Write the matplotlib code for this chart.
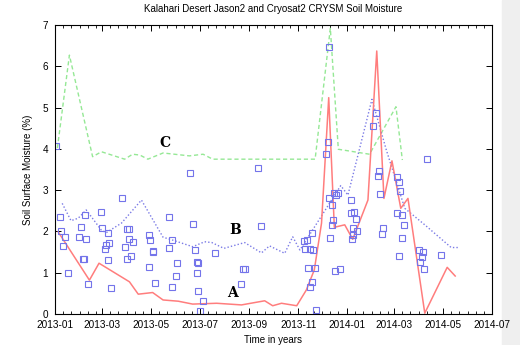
import numpy as np
import pandas as pd
import matplotlib
matplotlib.use("Agg")
import matplotlib.pyplot as plt
import matplotlib.dates as mdates

plt.rcParams['font.family'] = ['Liberation Sans', 'DejaVu Sans']

# Observed soil moisture (blue squares)
obs_dates = ['2013-01-02', '2013-01-07', '2013-01-08', '2013-01-11', '2013-01-13', '2013-01-17',
             '2013-01-31', '2013-02-02', '2013-02-05', '2013-02-06', '2013-02-08', '2013-02-09',
             '2013-02-11', '2013-02-27', '2013-03-01', '2013-03-05', '2013-03-06', '2013-03-08',
             '2013-03-08', '2013-03-09', '2013-03-12', '2013-03-26', '2013-03-30', '2013-04-01',
             '2013-04-01', '2013-04-03', '2013-04-03', '2013-04-06', '2013-04-09', '2013-04-28',
             '2013-04-29', '2013-04-30', '2013-05-03', '2013-05-04', '2013-05-06', '2013-05-23',
             '2013-05-24', '2013-05-27', '2013-05-27', '2013-06-01', '2013-06-02', '2013-06-19',
             '2013-06-23', '2013-06-25', '2013-06-27', '2013-06-27', '2013-06-29', '2013-06-29',
             '2013-07-01', '2013-07-05', '2013-07-20', '2013-08-22', '2013-08-24', '2013-08-26',
             '2013-09-12', '2013-09-16', '2013-11-08', '2013-11-09', '2013-11-12', '2013-11-13',
             '2013-11-15', '2013-11-16', '2013-11-18', '2013-11-18', '2013-11-19', '2013-11-22',
             '2013-11-23', '2013-12-05', '2013-12-08', '2013-12-09', '2013-12-09', '2013-12-11',
             '2013-12-13', '2013-12-13', '2013-12-14', '2013-12-16', '2013-12-17', '2013-12-18',
             '2013-12-20', '2013-12-23', '2014-01-06', '2014-01-06', '2014-01-07', '2014-01-08',
             '2014-01-08', '2014-01-10', '2014-01-12', '2014-01-13', '2014-02-02', '2014-02-06',
             '2014-02-09', '2014-02-10', '2014-02-11', '2014-02-13', '2014-02-15', '2014-03-04',
             '2014-03-04', '2014-03-07', '2014-03-07', '2014-03-08', '2014-03-10', '2014-03-11',
             '2014-03-13', '2014-04-01', '2014-04-02', '2014-04-04', '2014-04-06', '2014-04-07',
             '2014-04-11', '2014-04-28']
obs_vals = [4.07, 2.34, 2.01, 1.65, 1.86, 0.99,
            1.87, 2.11, 1.33, 1.33, 2.40, 1.82,
            0.73, 2.46, 2.09, 1.57, 1.66, 1.95,
            1.32, 1.73, 0.64, 2.80, 1.63, 2.07,
            1.34, 2.05, 1.82, 1.41, 1.75, 1.15,
            1.91, 1.79, 1.53, 1.49, 0.74, 1.59,
            2.34, 1.79, 0.66, 0.92, 1.23, 3.42,
            2.18, 1.55, 1.00, 1.27, 1.23, 0.56,
            0.08, 0.32, 1.47, 0.73, 1.09, 1.09,
            3.53, 2.13, 1.77, 1.57, 1.79, 1.12,
            0.66, 1.57, 1.95, 0.78, 1.55, 1.12,
            0.10, 3.87, 4.17, 6.47, 2.82, 1.83,
            2.64, 2.16, 2.28, 2.92, 1.05, 2.88,
            2.92, 1.08, 2.44, 2.76, 1.81, 1.91,
            2.09, 2.48, 2.29, 2.02, 4.56, 4.86,
            3.35, 3.47, 2.91, 1.94, 2.08, 3.33,
            2.45, 1.40, 3.20, 2.98, 2.41, 1.85,
            2.16, 1.55, 1.25, 1.39, 1.49, 1.10,
            3.75, 1.43]

# Curve A (solid red)
a_dates = ['2013-01-05', '2013-02-13', '2013-02-25', '2013-04-04', '2013-04-15', '2013-05-03',
           '2013-05-16', '2013-06-04', '2013-06-22', '2013-07-22', '2013-08-22', '2013-09-20',
           '2013-09-30', '2013-10-11', '2013-10-30', '2013-11-11', '2013-11-21', '2013-11-30',
           '2013-12-09', '2013-12-16', '2013-12-29', '2014-01-08', '2014-01-27', '2014-02-07',
           '2014-02-16', '2014-02-26', '2014-03-09', '2014-03-18', '2014-04-08', '2014-05-06',
           '2014-05-16']
a_vals = [1.99, 0.82, 1.23, 0.78, 0.48, 0.52,
          0.34, 0.31, 0.24, 0.26, 0.22, 0.32,
          0.20, 0.26, 0.20, 0.58, 1.07, 2.20,
          5.24, 2.10, 2.16, 1.81, 2.76, 6.37,
          2.80, 3.71, 2.56, 2.80, 0.02, 1.13,
          0.92]

# Curve B (dotted blue)
b_dates = ['2013-01-10', '2013-01-21', '2013-01-30', '2013-02-09', '2013-02-28', '2013-03-06',
           '2013-03-25', '2013-04-19', '2013-05-16', '2013-05-28', '2013-06-22', '2013-07-07',
           '2013-07-16', '2013-07-31', '2013-08-26', '2013-09-16', '2013-09-26', '2013-10-15',
           '2013-10-25', '2013-11-03', '2013-12-24', '2014-01-02', '2014-02-01', '2014-02-19',
           '2014-03-14', '2014-04-08', '2014-05-11', '2014-05-21']
b_vals = [2.68, 2.26, 2.32, 2.52, 2.03, 1.97,
          2.20, 2.76, 1.86, 1.79, 1.63, 1.75,
          1.73, 1.59, 1.73, 1.48, 1.65, 1.47,
          1.87, 1.55, 3.11, 2.88, 5.20, 3.97,
          2.56, 2.16, 1.61, 1.61]

# Curve C (dashed green)
c_dates = ['2013-01-04', '2013-01-19', '2013-02-17', '2013-02-28', '2013-03-29', '2013-04-08',
           '2013-04-17', '2013-04-27', '2013-05-16', '2013-06-18', '2013-07-05', '2013-07-17',
           '2013-11-22', '2013-12-11', '2013-12-21', '2014-01-29', '2014-03-03', '2014-03-11']
c_vals = [4.02, 6.27, 3.81, 3.93, 3.75, 3.87,
          3.85, 3.75, 3.90, 3.83, 3.87, 3.75,
          3.75, 6.92, 3.99, 3.87, 5.02, 3.73]

fig = plt.figure(figsize=(5.2, 3.45), dpi=100)
fig.patches.append(plt.Rectangle((502 / 520, 0), 18 / 520, 1, transform=fig.transFigure,
                                 color='#efefef', zorder=-1))
ax = fig.add_axes([55 / 520, 31 / 345, 437 / 520, 289 / 345])

ax.plot(pd.to_datetime(c_dates), c_vals, color='#95e895', lw=1.0, ls=(0, (3, 2)))
ax.plot(pd.to_datetime(b_dates), b_vals, color='#7b7be6', lw=1.0, ls=(0, (1, 1.5)))
ax.plot(pd.to_datetime(a_dates), a_vals, color='#ff7d7d', lw=1.1)
ax.plot(pd.to_datetime(obs_dates), obs_vals, ls='none', marker='s', ms=4.2,
        mfc='none', mec='#7474ea', mew=0.8)

ax.text(pd.Timestamp('2013-05-18'), 4.14, 'C', family='DejaVu Serif', weight='bold',
        fontsize=10, ha='center', va='center')
ax.text(pd.Timestamp('2013-08-14'), 2.03, 'B', family='DejaVu Serif', weight='bold',
        fontsize=10, ha='center', va='center')
ax.text(pd.Timestamp('2013-08-11'), 0.50, 'A', family='DejaVu Serif', weight='bold',
        fontsize=10, ha='center', va='center')

ax.set_xlim(pd.Timestamp('2013-01-01'), pd.Timestamp('2014-07-01'))
ax.set_ylim(0, 7)
ax.xaxis.set_major_locator(mdates.MonthLocator(bymonth=[1, 3, 5, 7, 9, 11]))
ax.xaxis.set_minor_locator(mdates.DayLocator(bymonthday=[1, 11, 21]))
ax.xaxis.set_major_formatter(mdates.DateFormatter('%Y-%m'))
ax.tick_params(which='both', direction='in', top=True, right=True, labelsize=7.2)
ax.tick_params(axis='x', pad=4)
ax.tick_params(axis='y', pad=5)
ax.tick_params(which='major', length=4, width=0.7)
ax.tick_params(which='minor', length=2, width=0.6)
ax.tick_params(axis='y', which='minor', left=False, right=False)
for s in ax.spines.values():
    s.set_linewidth(0.8)

ax.set_title('Kalahari Desert Jason2 and Cryosat2 CRYSM Soil Moisture', fontsize=7, pad=9)
ax.set_xlabel('Time in years', fontsize=7, labelpad=4)
ax.set_ylabel('Soil Surface Moisture (%)', fontsize=7, labelpad=7)

fig.savefig('out.png', dpi=100)
